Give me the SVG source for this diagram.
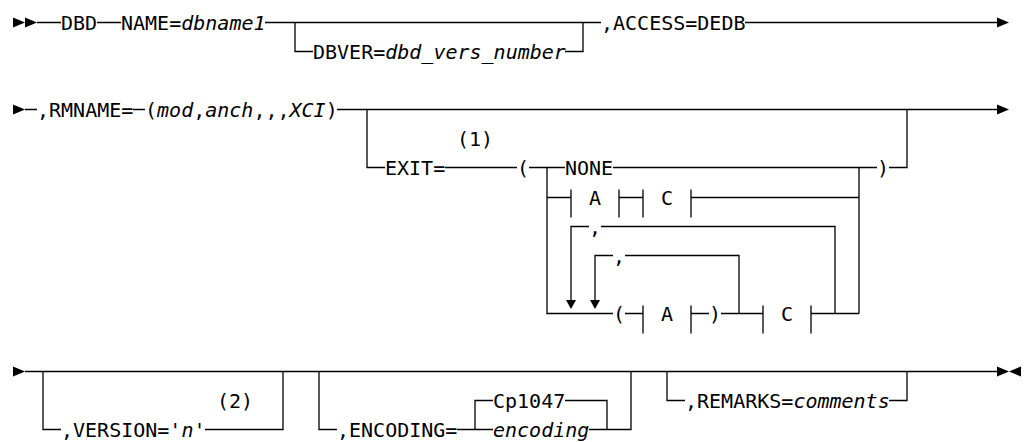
<svg xmlns="http://www.w3.org/2000/svg" width="1024" height="442" viewBox="0 0 1024 442">
<style>
.t{font-family:"DejaVu Sans Mono","Liberation Mono",monospace;font-size:20px;fill:#000}
.i{font-style:italic}
.ln{stroke:#000;stroke-width:1.3;fill:none}
.ar{fill:#000}
</style>
<rect width="1024" height="442" fill="#fff"/>
<g id="connectors">
<path class="ln" d="M37 22.5H61 M97 22.5H121 M265 22.5H601 M745 22.5H997 M295 22.5V51.5H313 M565 51.5H583V22.5"/>
<path class="ln" d="M25 109.5H37 M133 109.5H145 M337 109.5H997 M367 109.5V167.5H385 M445 167.5H517 M529 167.5H565 M613 167.5H877 M889 167.5H907V109.5"/>
<path class="ln" d="M547 167.5V313.5H613 M547 197.5H571 M619 197.5H643 M691 197.5H859 M859 167.5V313.5"/>
<path class="ln" d="M571 300V226.5H589 M601 226.5H835V313.5 M595 300V255.5H613 M625 255.5H739V313.5"/>
<path class="ln" d="M625 313.5H643 M691 313.5H709 M721 313.5H763 M811 313.5H859"/>
<path class="ln" d="M571 189.5V217.5 M619 189.5V217.5 M643 189.5V217.5 M691 189.5V217.5 M643 305.5V333.5 M691 305.5V333.5 M763 305.5V333.5 M811 305.5V333.5"/>
<path class="ln" d="M25 371.5H997 M43 371.5V429.5H61 M205 429.5H283V371.5 M319 371.5V429.5H337 M457 429.5H493 M475 429.5V400.5H493 M565 400.5H607V429.5 M589 429.5H631V371.5 M667 371.5V400.5H685 M889 400.5H907V371.5"/>
<polygon class="ar" points="566,300 576,300 571,309"/>
<polygon class="ar" points="590,300 600,300 595,309"/>
</g>
<g id="start1"><polygon class="ar" points="13,17.5 25,22.5 13,27.5"/><polygon class="ar" points="25,17.5 37,22.5 25,27.5"/></g>
<g id="dbd"><text class="t" x="61" y="30">DBD</text></g>
<g id="name"><text class="t" x="121" y="30">NAME=<tspan class="i">dbname1</tspan></text></g>
<g id="dbver"><text class="t" x="313" y="59">DBVER=<tspan class="i">dbd_vers_number</tspan></text></g>
<g id="access"><text class="t" x="601" y="30">,ACCESS=DEDB</text></g>
<g id="cont1"><polygon class="ar" points="997,17.5 1009,22.5 997,27.5"/></g>
<g id="start2"><polygon class="ar" points="13,104.5 25,109.5 13,114.5"/></g>
<g id="rmname"><text class="t" x="37" y="117">,RMNAME=</text><text class="t" x="145" y="117">(<tspan class="i">mod</tspan>,<tspan class="i">anch</tspan>,,,<tspan class="i">XCI</tspan>)</text></g>
<g id="cont2"><polygon class="ar" points="997,104.5 1009,109.5 997,114.5"/></g>
<g id="exit"><text class="t" x="457" y="146">(1)</text><text class="t" x="385" y="175">EXIT=</text><text class="t" x="517" y="175">(</text><text class="t" x="877" y="175">)</text></g>
<g id="none"><text class="t" x="565" y="175">NONE</text></g>
<g id="fragA1"><text class="t" x="589" y="205">A</text></g>
<g id="fragC1"><text class="t" x="661" y="205">C</text></g>
<g id="comma1"><text class="t" x="589" y="234">,</text></g>
<g id="comma2"><text class="t" x="613" y="263">,</text></g>
<g id="fragA2"><text class="t" x="613" y="321">(</text><text class="t" x="661" y="321">A</text><text class="t" x="709" y="321">)</text></g>
<g id="fragC2"><text class="t" x="781" y="321">C</text></g>
<g id="start3"><polygon class="ar" points="13,366.5 25,371.5 13,376.5"/></g>
<g id="version"><text class="t" x="217" y="408">(2)</text><text class="t" x="61" y="437">,VERSION='<tspan class="i">n</tspan>'</text></g>
<g id="encoding"><text class="t" x="337" y="437">,ENCODING=</text><text class="t" x="493" y="408">Cp1047</text><text class="t i" x="493" y="437">encoding</text></g>
<g id="remarks"><text class="t" x="685" y="408">,REMARKS=<tspan class="i">comments</tspan></text></g>
<g id="end"><polygon class="ar" points="997,366.5 1009,371.5 997,376.5"/><polygon class="ar" points="1021,366.5 1009,371.5 1021,376.5"/></g>
</svg>
